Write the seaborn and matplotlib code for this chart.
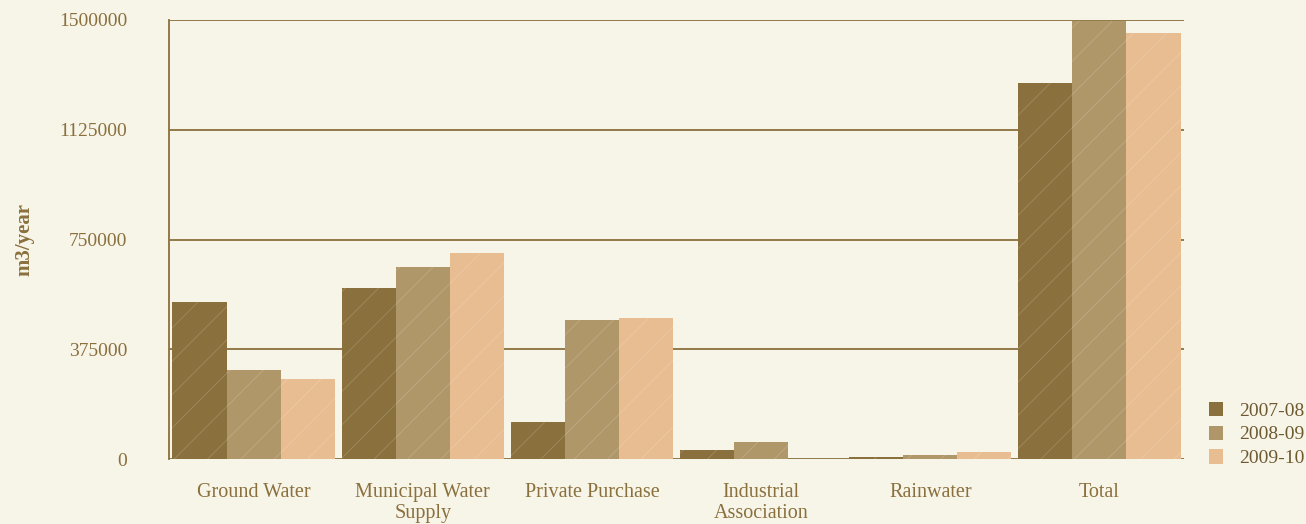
import matplotlib
matplotlib.use("Agg")
import matplotlib.pyplot as plt
import matplotlib.patches as mpatches
from matplotlib.ticker import FixedLocator
import pandas as pd
import seaborn as sns

# Water sources and yearly consumption (m3/year)
categories = ["Ground Water", "Municipal Water\nSupply", "Private Purchase",
              "Industrial\nAssociation", "Rainwater", "Total"]
years = ["2007-08", "2008-09", "2009-10"]
values_2007 = [536000, 584000, 126000, 30000, 8000, 1284000]
values_2008 = [304000, 656000, 475000, 58000, 15000, 1498000]
values_2009 = [273000, 704000, 482000, 0, 25000, 1455000]
y_ticks = [0, 375000, 750000, 1125000, 1500000]

colors = ["#8A703D", "#B0976A", "#E8BD92"]
bg = "#F7F4E8"
ink = "#8A703D"

rows = []
for year, vals in zip(years, [values_2007, values_2008, values_2009]):
    for cat, v in zip(categories, vals):
        rows.append({"Source": cat, "Year": year, "Value": v})
df = pd.DataFrame(rows)

sns.set_style("white")
plt.rcParams["font.family"] = ["Liberation Serif", "DejaVu Serif"]
plt.rcParams["hatch.linewidth"] = 0.6

fig = plt.figure(figsize=(13.06, 5.24), dpi=100, facecolor=bg)
ax = fig.add_axes([169 / 1306, 65 / 524, 1015 / 1306, 439 / 524])
ax.set_facecolor(bg)

sns.barplot(data=df, x="Source", y="Value", hue="Year", palette=colors,
            saturation=1, width=0.96, gap=0, ax=ax, legend=False, zorder=3)
for patch in ax.patches:
    patch.set_hatch("/")
    patch.set_edgecolor((1, 1, 1, 0.18))
    patch.set_linewidth(0)

ax.set_xlim(-0.5, len(categories) - 0.5)
ax.set_ylim(0, 1500000)
ax.set_yticks(y_ticks)
ax.set_yticklabels([str(t) for t in y_ticks])
ax.yaxis.grid(True, color=ink, linewidth=1.3, zorder=1)
ax.xaxis.grid(False)

for side in ["top", "right", "bottom"]:
    ax.spines[side].set_visible(False)
ax.spines["left"].set_color(ink)
ax.spines["left"].set_linewidth(1.3)
ax.spines["left"].set_zorder(1)

ax.tick_params(axis="y", which="major", direction="out", length=5, width=1.2,
               color=ink, labelcolor=ink, labelsize=14, pad=25)
ax.tick_params(axis="x", which="major", length=0, labelcolor=ink,
               labelsize=14.5, pad=17)
ax.xaxis.set_minor_locator(FixedLocator([i + 0.5 for i in range(-1, len(categories))]))
ax.tick_params(axis="x", which="minor", direction="in", length=5, width=1,
               color=ink)
for lab in ax.get_xticklabels():
    lab.set_linespacing(1.15)

ax.set_xlabel("")
ax.set_ylabel("m3/year", color=ink, fontsize=15, fontweight="bold", labelpad=18)

handles = [mpatches.Patch(facecolor=c, edgecolor="none", label=y)
           for c, y in zip(colors, years)]
leg = fig.legend(handles=handles, loc="lower left",
                 bbox_to_anchor=(1201 / 1306, 49 / 524), frameon=False,
                 fontsize=14, handlelength=0.75, handleheight=0.75,
                 handletextpad=0.8, labelspacing=0.3, borderaxespad=0)
for t in leg.get_texts():
    t.set_color("#6E5A30")

fig.savefig("out.png", dpi=100, facecolor=bg)
